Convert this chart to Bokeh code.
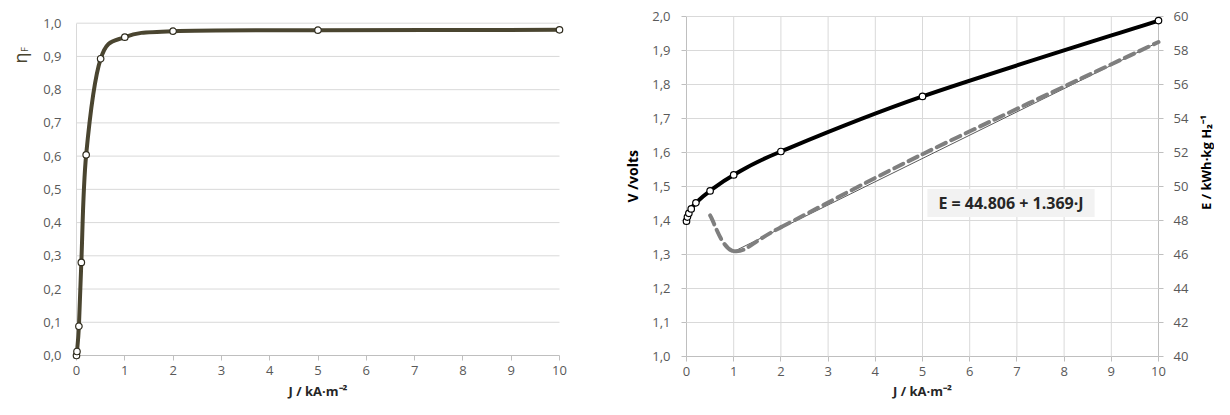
import numpy as np
from bokeh.plotting import figure
from bokeh.models import Range1d, LinearAxis, Label, FixedTicker, CustomJSTickFormatter
from bokeh.layouts import row
from bokeh.embed import file_html
from bokeh.resources import INLINE

# ---------------- data ----------------
j_eff = [0, 0.01, 0.05, 0.1, 0.2, 0.5, 1, 2, 5, 10]
eta_f = [0.0, 0.012, 0.088, 0.28, 0.604, 0.893, 0.958, 0.976, 0.979, 0.98]

j_v = [0, 0.02, 0.05, 0.1, 0.2, 0.5, 1, 2, 5, 10]
volts = [1.398, 1.41, 1.421, 1.434, 1.452, 1.487, 1.534, 1.603, 1.765, 1.988]

j_e = [0.5, 1, 2, 5, 10]
energy = [48.3, 46.2, 47.6, 51.9, 58.5]

fit_a = 44.806
fit_b = 1.369
fit_j = [1, 10]
fit_text = "E = 44.806 + 1.369·J"

x_ticks = list(range(0, 11))
eta_ticks = [i / 10 for i in range(0, 11)]
v_ticks = [1 + i / 10 for i in range(0, 11)]
e_ticks = list(range(40, 61, 2))

x_label = "J / kA·m⁻²"
v_label = "V /volts"
e_label = "E / kWh·kg H₂⁻¹"

FONT = "Open Sans"
TICK_COL = "#595959"
GRID_COL = "#d9d9d9"
AXIS_COL = "#bfbfbf"
OLIVE = "#4a4530"

# ---------------- layout geometry (canvas pixels, y measured from bottom) ----------------
H = 399
W1, W2 = 600, 614
L_X = (0, 10, 76.0, 559.0)
L_Y = (0, 1, 44.0, 376.3)
R_X = (0, 10, 86.0, 558.0)
R_Y = (1, 2, 43.0, 383.0)
R_E = (40, 60, 43.0, 383.0)


def to_data(g, px):
    v0, v1, p0, p1 = g
    return v0 + (px - p0) * (v1 - v0) / (p1 - p0)


def full_range(g, total):
    return Range1d(to_data(g, 0), to_data(g, total))


def smooth(xs, ys):
    """Catmull-Rom style bezier control points (as Excel smoothed lines)."""
    x = np.asarray(xs, float)
    y = np.asarray(ys, float)
    n = len(x)
    xp = np.concatenate([[x[0]], x, [x[-1]]])
    yp = np.concatenate([[y[0]], y, [y[-1]]])
    cx0 = x[:-1] + (xp[2:n + 1] - xp[0:n - 1]) / 6
    cy0 = y[:-1] + (yp[2:n + 1] - yp[0:n - 1]) / 6
    cx1 = x[1:] - (xp[3:n + 2] - xp[1:n]) / 6
    cy1 = y[1:] - (yp[3:n + 2] - yp[1:n]) / 6
    return dict(x0=x[:-1], y0=y[:-1], x1=x[1:], y1=y[1:],
                cx0=cx0, cy0=cy0, cx1=cx1, cy1=cy1)


comma1 = CustomJSTickFormatter(code="return tick.toFixed(1).replace('.', ',');")


def style_axis(ax, tick_out, standoff, line_col):
    ax.major_label_text_font = FONT
    ax.major_label_text_font_size = "13px"
    ax.major_label_text_color = TICK_COL
    ax.major_tick_out = tick_out
    ax.major_tick_in = 0
    ax.minor_tick_out = 0
    ax.minor_tick_in = 0
    ax.major_tick_line_color = AXIS_COL
    ax.axis_line_color = line_col
    ax.major_label_standoff = standoff
    ax.level = "underlay"


def base_fig(w, gx, gy):
    p = figure(width=w, height=H, x_range=full_range(gx, w),
               y_range=full_range(gy, H), min_border=0,
               output_backend="svg", toolbar_location=None)
    p.title.visible = False
    p.outline_line_color = None
    p.grid.visible = False
    p.background_fill_color = "white"
    return p


def text(p, gx, gy, px, py, txt, size, bold=False, color="black",
         angle=0.0, align="center", baseline="middle", **kw):
    p.add_layout(Label(x=to_data(gx, px), y=to_data(gy, py), text=txt,
                       angle=angle, text_align=align, text_baseline=baseline,
                       text_font=FONT, text_font_size=size,
                       text_font_style="bold" if bold else "normal",
                       text_color=color, **kw))


# ---------------- left chart ----------------
p1 = base_fig(W1, L_X, L_Y)
p1.segment(x0=0, x1=10, y0=eta_ticks[1:], y1=eta_ticks[1:],
           line_color=GRID_COL, line_width=1)
xa = p1.xaxis[0]
xa.fixed_location = 0
xa.bounds = (0, 10)
xa.ticker = FixedTicker(ticks=x_ticks)
style_axis(xa, 5, 5, AXIS_COL)
ya = p1.yaxis[0]
ya.fixed_location = 0
ya.bounds = (0, 1)
ya.ticker = FixedTicker(ticks=eta_ticks)
ya.formatter = comma1
style_axis(ya, 0, 15, GRID_COL)

s1 = smooth(j_eff, eta_f)
p1.bezier(source=s1, x0="x0", y0="y0", x1="x1", y1="y1",
          cx0="cx0", cy0="cy0", cx1="cx1", cy1="cy1",
          line_color=OLIVE, line_width=4, line_cap="round")
p1.scatter(j_eff, eta_f, size=6.5, fill_color="white",
           line_color="#2f2c1e", line_width=1.2)

text(p1, L_X, L_Y, 317.5, 9, x_label, "13px", bold=True, color="#262626",
     baseline="alphabetic")
text(p1, L_X, L_Y, 19, 341.5, "η", "18px", color=OLIVE, angle=np.pi / 2,
     baseline="alphabetic")
text(p1, L_X, L_Y, 24, 350, "F", "9px", color=OLIVE, angle=np.pi / 2,
     baseline="alphabetic")

# ---------------- right chart ----------------
p2 = base_fig(W2, R_X, R_Y)
p2.extra_y_ranges = {"E": full_range(R_E, H)}
p2.segment(x0=0, x1=10, y0=v_ticks[1:], y1=v_ticks[1:],
           line_color=GRID_COL, line_width=1)
p2.segment(x0=x_ticks[1:-1], x1=x_ticks[1:-1], y0=1, y1=2,
           line_color=GRID_COL, line_width=1)
xb = p2.xaxis[0]
xb.fixed_location = 1
xb.bounds = (0, 10)
xb.ticker = FixedTicker(ticks=x_ticks)
style_axis(xb, 5, 5, AXIS_COL)
yb = p2.yaxis[0]
yb.fixed_location = 0
yb.bounds = (1, 2)
yb.ticker = FixedTicker(ticks=v_ticks)
yb.formatter = comma1
style_axis(yb, 5, 11, AXIS_COL)

ax_e = LinearAxis(y_range_name="E", fixed_location=10, bounds=(40, 60),
                  ticker=FixedTicker(ticks=e_ticks))
style_axis(ax_e, 5, 10, AXIS_COL)
p2.add_layout(ax_e, "right")

# trend line
p2.line(fit_j, [fit_a + fit_b * j for j in fit_j], y_range_name="E",
        line_color="#595959", line_width=1)
# energy (dashed)
s3 = smooth(j_e, energy)
p2.bezier(source=s3, x0="x0", y0="y0", x1="x1", y1="y1",
          cx0="cx0", cy0="cy0", cx1="cx1", cy1="cy1", y_range_name="E",
          line_color="#7f7f7f", line_width=4, line_dash="10 6",
          line_cap="round")
# voltage
s2 = smooth(j_v, volts)
p2.bezier(source=s2, x0="x0", y0="y0", x1="x1", y1="y1",
          cx0="cx0", cy0="cy0", cx1="cx1", cy1="cy1",
          line_color="black", line_width=4, line_cap="round")
p2.scatter(j_v, volts, size=6.5, fill_color="white",
           line_color="black", line_width=1.2)

text(p2, R_X, R_Y, 410.5, 196.5, fit_text, "16px", bold=True,
     color="#262626", background_fill_color="#f2f2f2",
     padding=dict(left=11, right=11, top=3, bottom=3))
text(p2, R_X, R_Y, 322, 9, x_label, "13px", bold=True, color="#262626",
     baseline="alphabetic")
text(p2, R_X, R_Y, 32, 197, v_label, "14px", bold=True, angle=np.pi / 2,
     align="left", baseline="alphabetic")
text(p2, R_X, R_E, 605, 237, e_label, "13px", bold=True, angle=np.pi / 2,
     baseline="alphabetic", y_range_name="E")

layout = row(p1, p2)
open("out.html", "w").write(file_html(layout, INLINE))
